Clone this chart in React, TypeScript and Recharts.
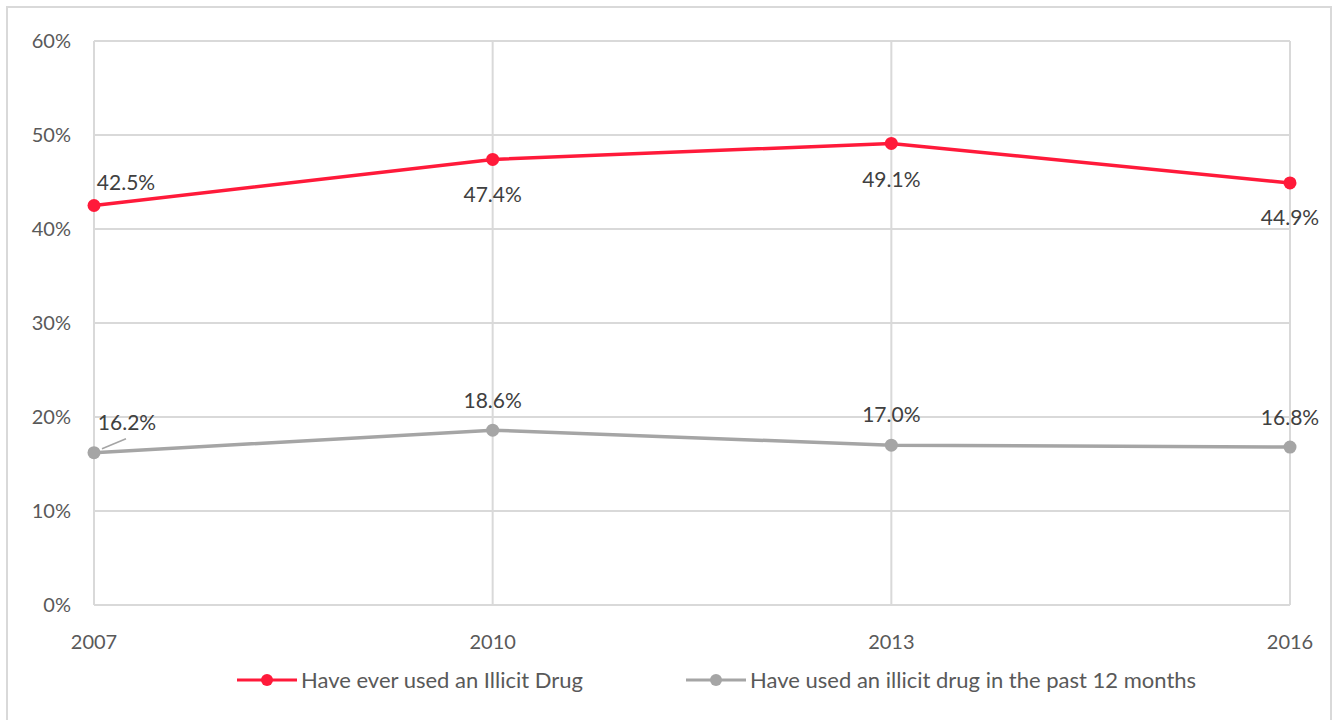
import { LineChart, Line, XAxis, YAxis, CartesianGrid, LabelList } from "recharts";

const years = ["2007", "2010", "2013", "2016"];
const everUsed = [42.5, 47.4, 49.1, 44.9];
const pastYear = [16.2, 18.6, 17.0, 16.8];
const yTicks = [0, 10, 20, 30, 40, 50, 60];

const EVER_LABEL = "Have ever used an Illicit Drug";
const PAST_LABEL = "Have used an illicit drug in the past 12 months";

const RED = "#ff1a3a";
const GRAY = "#a5a5a5";
const GRID = "#d9d9d9";
const TEXT = "#595959";
const LABEL_TEXT = "#404040";
const FONT = "Lato, 'Open Sans', sans-serif";

// label offsets from each point, in px
const everOffsets = [
  [32, -24],
  [0, 34],
  [0, 35],
  [0, 34],
];
const pastOffsets = [
  [33, -31],
  [0, -31],
  [0, -32],
  [0, -31],
];

const data = years.map((year, i) => ({
  year,
  ever: everUsed[i],
  past: pastYear[i],
}));

function makeLabel(offsets: number[][], leaderAt?: number) {
  return (props: any) => {
    const { x, y, value, index } = props;
    const [dx, dy] = offsets[index];
    return (
      <g>
        {leaderAt === index && (
          <line x1={x + 8} y1={y - 4} x2={x + 32} y2={y - 14} stroke={GRAY} strokeWidth={1.5} />
        )}
        <text
          x={x + dx}
          y={y + dy}
          textAnchor="middle"
          dominantBaseline="central"
          fill={LABEL_TEXT}
          fontSize={21}
          fontFamily={FONT}
        >
          {value.toFixed(1)}%
        </text>
      </g>
    );
  };
}

function LegendItem({ color, text }: { color: string; text: string }) {
  return (
    <div style={{ display: "flex", alignItems: "center" }}>
      <svg width={62} height={14}>
        <line x1={0} y1={7} x2={60} y2={7} stroke={color} strokeWidth={3} />
        <circle cx={30} cy={7} r={6} fill={color} />
      </svg>
      <span style={{ marginLeft: 2, color: TEXT, fontSize: 22, fontFamily: FONT }}>{text}</span>
    </div>
  );
}

export default function App() {
  return (
    <div style={{ position: "relative", width: 1338, height: 720, background: "#fff", overflow: "hidden" }}>
      <style>{"body{margin:0}"}</style>
      <div
        style={{
          position: "absolute",
          left: 6,
          top: 6,
          width: 1322,
          height: 730,
          border: "2px solid #d9d9d9",
        }}
      />
      <LineChart
        width={1338}
        height={720}
        data={data}
        margin={{ top: 41, right: 48, bottom: 85, left: 0 }}
        style={{ position: "absolute", left: 0, top: 0 }}
      >
        <CartesianGrid stroke={GRID} strokeWidth={2} />
        <XAxis
          dataKey="year"
          height={30}
          axisLine={{ stroke: GRID, strokeWidth: 2 }}
          tickLine={false}
          tickMargin={24}
          tick={{ fill: TEXT, fontSize: 20, fontFamily: FONT }}
          interval={0}
        />
        <YAxis
          width={94}
          domain={[0, 60]}
          ticks={yTicks}
          tickFormatter={(v: number) => `${v}%`}
          axisLine={{ stroke: GRID, strokeWidth: 2 }}
          tickLine={false}
          tickSize={0}
          tickMargin={23}
          tick={{ fill: TEXT, fontSize: 20, fontFamily: FONT }}
        />
        <Line
          dataKey="ever"
          name={EVER_LABEL}
          stroke={RED}
          strokeWidth={3.5}
          dot={{ r: 6.5, fill: RED, stroke: RED, strokeWidth: 0 }}
          isAnimationActive={false}
        >
          <LabelList dataKey="ever" content={makeLabel(everOffsets)} />
        </Line>
        <Line
          dataKey="past"
          name={PAST_LABEL}
          stroke={GRAY}
          strokeWidth={3.5}
          dot={{ r: 6.5, fill: GRAY, stroke: GRAY, strokeWidth: 0 }}
          isAnimationActive={false}
        >
          <LabelList dataKey="past" content={makeLabel(pastOffsets, 0)} />
        </Line>
      </LineChart>
      <div
        style={{
          position: "absolute",
          top: 666,
          left: 237,
          display: "flex",
          gap: 103,
        }}
      >
        <LegendItem color={RED} text={EVER_LABEL} />
        <LegendItem color={GRAY} text={PAST_LABEL} />
      </div>
    </div>
  );
}
